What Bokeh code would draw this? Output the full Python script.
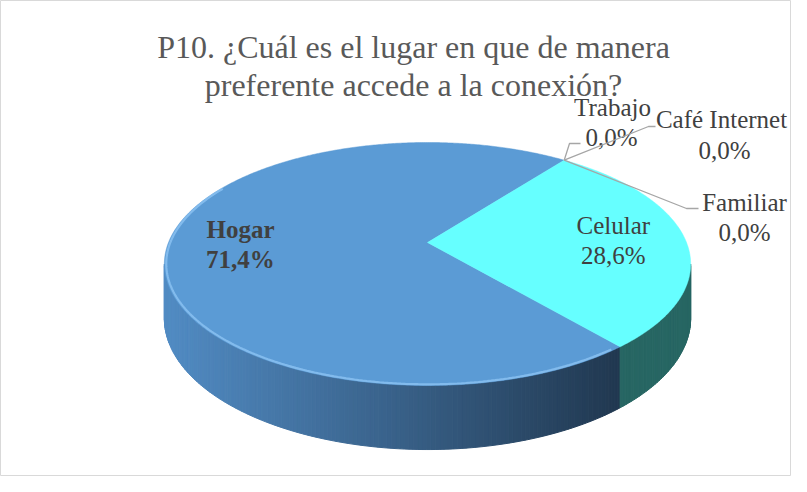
import numpy as np
from bokeh.plotting import figure
from bokeh.models import Range1d, ColumnDataSource
from bokeh.core.properties import value
from bokeh.embed import file_html
from bokeh.resources import INLINE

# ---------------- data ----------------
title_lines = ["P10. ¿Cuál es el lugar en que de manera",
               "preferente accede a la conexión?"]
categories = ["Hogar", "Trabajo", "Café Internet", "Familiar", "Celular"]
percent = [71.4, 0.0, 0.0, 0.0, 28.6]
pct_labels = ["71,4%", "0,0%", "0,0%", "0,0%", "28,6%"]

# ---------------- style / layout ----------------
W, H = 791, 476
FIRST_ANGLE = 140.0          # degrees, clockwise from 12 o'clock
CX, CY = 427.0, 242.0        # projected pie centre
A, B = 259.0, 117.7          # semi axes of the projected disc
K = 0.177                    # perspective factor
DEPTH = 52.7                 # thickness of the pie
FONT = "Liberation Serif"
TOP_COL = {"Hogar": "#5B9BD5", "Celular": "#66FFFF",
           "Trabajo": "#A5A5A5", "Café Internet": "#FFC000", "Familiar": "#4472C4"}
SIDE_COL = {"Celular": "#276663", "Trabajo": "#555555",
            "Café Internet": "#7F6000", "Familiar": "#223A62"}
SIDE_LEFT = np.array([82, 140, 196])
SIDE_RIGHT = np.array([33, 56, 80])
LABEL_COL = "#404040"
LEADER_COL = "#A6A6A6"

# label placement for zero slices (name pos, pct pos, leader elbow, leader end)
ZERO_LABELS = {
    "Trabajo": ((612, 107), (611, 137), (569, 143), (580, 143)),
    "Café Internet": ((721, 119), (724, 150), (648, 126), (655, 126)),
    "Familiar": ((744, 202), (744, 232), (686, 208), (698, 208)),
}


def proj(theta_deg, f=1.0, depth=0.0):
    t = np.radians(theta_deg)
    u, v = f * np.sin(t), f * np.cos(t)
    w = 1 + K * v
    return CX + A * u / w, CY - B * v / w + depth / w


p = figure(width=W, height=H, x_range=Range1d(0, W), y_range=Range1d(H, 0),
           x_axis_type=None, y_axis_type=None, output_backend="svg",
           toolbar_location=None, min_border=0)
p.grid.visible = False
p.outline_line_color = "#D9D9D9"
p.background_fill_color = "white"

# slice angles
vals = np.array(percent, dtype=float)
spans = vals / vals.sum() * 360.0
starts = FIRST_ANGLE + np.concatenate([[0], np.cumsum(spans)[:-1]])
ends = starts + spans

VIS_LO, VIS_HI = 100.2, 259.8

# ---------- sides ----------
side_xs, side_ys, side_c = [], [], []
for cat, s, e in zip(categories, starts, ends):
    if e - s <= 0:
        continue
    for shift in (0, 360, -360):
        lo = max(s + shift, VIS_LO)
        hi = min(e + shift, VIS_HI)
        if hi <= lo:
            continue
        n = max(2, int((hi - lo) / 0.8) + 1)
        th = np.linspace(lo, hi, n)
        for a0, a1 in zip(th[:-1], th[1:]):
            x0, y0 = proj(a0)
            x1, y1 = proj(a1)
            xb0, yb0 = proj(a0, depth=DEPTH)
            xb1, yb1 = proj(a1, depth=DEPTH)
            side_xs.append([x0, x1, xb1, xb0])
            side_ys.append([y0, y1, yb1, yb0])
            if cat == "Hogar":
                t = np.clip(((x0 + x1) / 2 - 165) / (620 - 165), 0, 1)
                c = (SIDE_LEFT + (SIDE_RIGHT - SIDE_LEFT) * t).astype(int)
                side_c.append("#%02x%02x%02x" % tuple(c))
            else:
                side_c.append(SIDE_COL[cat])

p.patches(xs="xs", ys="ys", fill_color="c", line_color="c", line_width=1,
          source=ColumnDataSource(dict(xs=side_xs, ys=side_ys, c=side_c)))

# ---------- top faces ----------
top_xs, top_ys, top_c = [], [], []
for cat, s, e in zip(categories, starts, ends):
    if e - s <= 0:
        continue
    th = np.linspace(s, e, max(3, int(e - s) * 2))
    rx, ry = proj(th)
    top_xs.append([CX] + list(rx))
    top_ys.append([CY] + list(ry))
    top_c.append(TOP_COL[cat])
p.patches(xs="xs", ys="ys", fill_color="c", line_color="c", line_width=0.5,
          source=ColumnDataSource(dict(xs=top_xs, ys=top_ys, c=top_c)))

# bevel highlight on the front rim of the big slice
hs, he = starts[0], ends[0]
th = np.linspace(max(hs, VIS_LO) + 2, min(he, 300), 200)
bx, by = proj(th, f=0.993)
p.line(bx, by, line_color="#8CC3F2", line_width=2.2, line_alpha=0.8)

# ---------- labels inside slices ----------
for cat, s, e, lab in zip(categories, starts, ends, pct_labels):
    if e - s <= 0:
        continue
    mx, my = proj((s + e) / 2, f=0.72)
    bold = "bold" if cat == "Hogar" else "normal"
    p.text(x=[mx], y=[my - 15], text=[cat], text_font=value(FONT), text_font_size="25px",
           text_font_style=bold, text_color=LABEL_COL, text_align="center",
           text_baseline="middle")
    p.text(x=[mx], y=[my + 15], text=[lab], text_font=value(FONT), text_font_size="25px",
           text_font_style=bold, text_color=LABEL_COL, text_align="center",
           text_baseline="middle")

# ---------- zero slices with leader lines ----------
for cat, s, lab in zip(categories, starts, pct_labels):
    if cat not in ZERO_LABELS:
        continue
    (nx, ny), (px, py), (ex, ey), (fx, fy) = ZERO_LABELS[cat]
    ax, ay = proj(s)
    p.line([ax, ex, fx], [ay, ey, fy], line_color=LEADER_COL, line_width=1.3)
    p.text(x=[nx], y=[ny], text=[cat], text_font=value(FONT), text_font_size="25px",
           text_color=LABEL_COL, text_align="center", text_baseline="middle")
    p.text(x=[px], y=[py], text=[lab], text_font=value(FONT), text_font_size="25px",
           text_color=LABEL_COL, text_align="center", text_baseline="middle")

# ---------- title ----------
p.text(x=[413, 413], y=[46, 84], text=title_lines, text_font=value(FONT),
       text_font_size="32px", text_color="#595959", text_align="center",
       text_baseline="middle")

open("out.html", "w").write(file_html(p, INLINE))
